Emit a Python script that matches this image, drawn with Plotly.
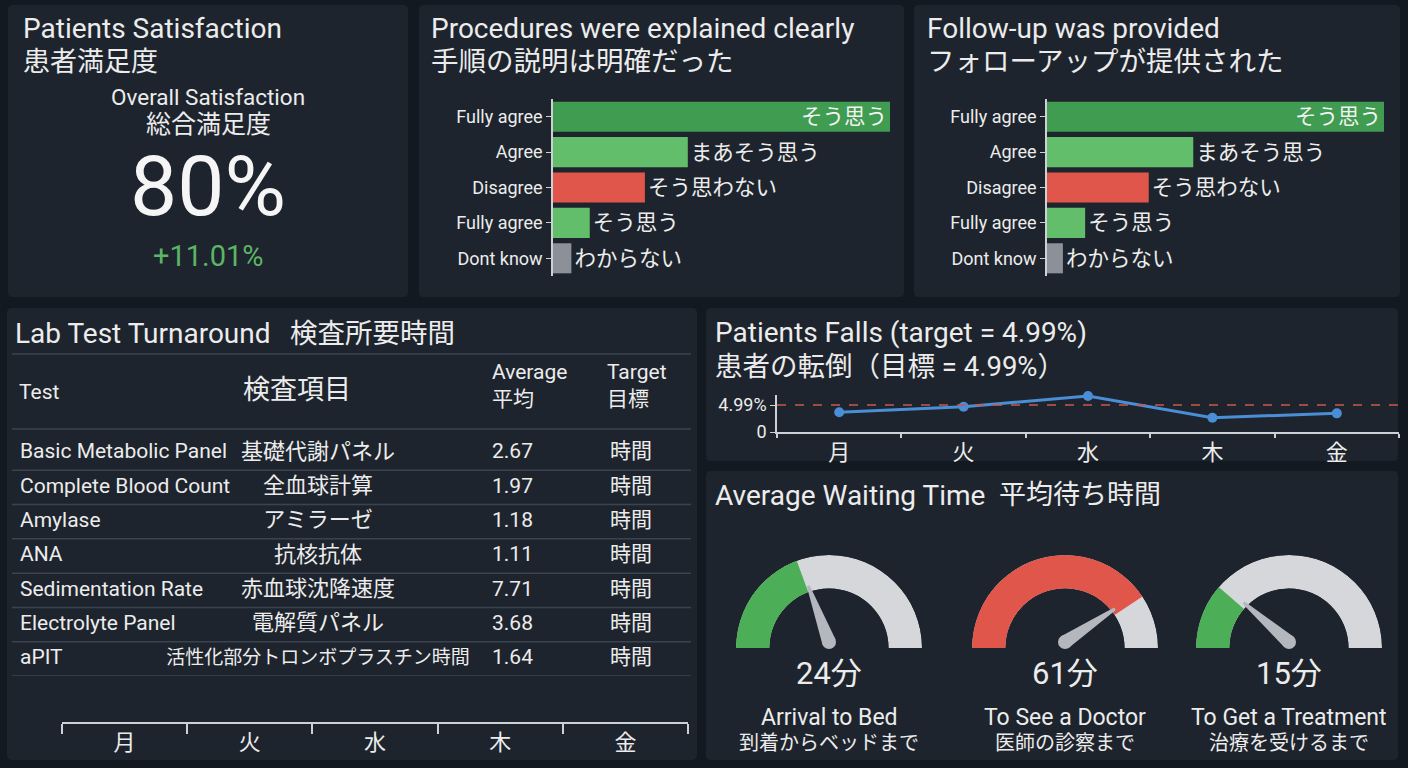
import math
import plotly.graph_objects as go

W, H = 1408, 768
BG = "#131920"
PANEL = "#1e242d"
TXT = "#ececec"
LINE = "#3b434f"
AXIS = "#cdd1d6"
FONT = "Roboto, 'Noto Sans CJK JP', sans-serif"

# ---------------- data ----------------
sat_value = 80
sat_delta = 11.01

survey_en = ["Fully agree", "Agree", "Disagree", "Fully agree", "Dont know"]
survey_jp = ["そう思う", "まあそう思う", "そう思わない", "そう思う", "わからない"]
survey_colors = ["#3f9c50", "#62be6b", "#e0564b", "#62be6b", "#8c9199"]
procedures_vals = [55, 22, 15, 6, 3]
followup_vals = [53, 23, 16, 6, 2.5]

lab_tests = ["Basic Metabolic Panel", "Complete Blood Count", "Amylase", "ANA",
             "Sedimentation Rate", "Electrolyte Panel", "aPIT"]
lab_tests_jp = ["基礎代謝パネル", "全血球計算", "アミラーゼ", "抗核抗体",
                "赤血球沈降速度", "電解質パネル", "活性化部分トロンボプラスチン時間"]
lab_avg = [2.67, 1.97, 1.18, 1.11, 7.71, 3.68, 1.64]
lab_target = ["時間"] * 7

days = ["月", "火", "水", "木", "金"]
falls = [3.64, 4.68, 6.65, 2.64, 3.45]
falls_target = 4.99

wait_en = ["Arrival to Bed", "To See a Doctor", "To Get a Treatment"]
wait_jp = ["到着からベッドまで", "医師の診察まで", "治療を受けるまで"]
wait_minutes = [24, 61, 15]
wait_max = [62, 75, 66]
wait_colors = ["#4cae57", "#e0564b", "#4cae57"]


def px(x):
    return x / W


def py(y):
    return 1 - y / H


fig = go.Figure()
shapes = []
annotations = []


def rrect(x0, y0, x1, y1, r=5):
    pts = (f"M {px(x0 + r)},{py(y0)} L {px(x1 - r)},{py(y0)} Q {px(x1)},{py(y0)} {px(x1)},{py(y0 + r)} "
           f"L {px(x1)},{py(y1 - r)} Q {px(x1)},{py(y1)} {px(x1 - r)},{py(y1)} "
           f"L {px(x0 + r)},{py(y1)} Q {px(x0)},{py(y1)} {px(x0)},{py(y1 - r)} "
           f"L {px(x0)},{py(y0 + r)} Q {px(x0)},{py(y0)} {px(x0 + r)},{py(y0)} Z")
    return dict(type="path", path=pts, xref="paper", yref="paper",
                fillcolor=PANEL, line=dict(width=0), layer="below")


for p in [(8, 5, 408, 297), (419, 5, 904, 297), (914, 5, 1400, 297),
          (7, 308, 697, 760), (706, 308, 1398, 461), (706, 471, 1398, 760)]:
    shapes.append(rrect(*p))


def ann(text, x, y, size, color=TXT, xanchor="left"):
    if xanchor == "left":
        x -= 3
    annotations.append(dict(text=text, x=px(x), y=py(y), xref="paper", yref="paper",
                            xanchor=xanchor, yanchor="middle", showarrow=False,
                            font=dict(size=size, color=color, family=FONT)))


# ---------------- panel 1: satisfaction ----------------
ann("Patients Satisfaction", 24, 29, 28)
ann("患者満足度", 24, 62, 27)
ann("Overall Satisfaction", 208, 97, 22.5, xanchor="center")
ann("総合満足度", 208, 124, 25, xanchor="center")
fig.add_trace(go.Indicator(mode="number", value=sat_value,
                           number=dict(suffix="%", font=dict(size=84, color="#f5f5f5", family=FONT)),
                           domain=dict(x=[px(8), px(408)], y=[py(226), py(146)])))
ann(f"+{sat_delta:.2f}%", 208, 256, 29, color="#5cb565", xanchor="center")

# ---------------- panels 2/3: survey bars ----------------
ann("Procedures were explained clearly", 432, 29, 28)
ann("手順の説明は明確だった", 432, 62, 27.5)
ann("Follow-up was provided", 928, 29, 28)
ann("フォローアップが提供された", 928, 62, 27.5)

for vals, xa, ya in [(procedures_vals, "x", "y"), (followup_vals, "x2", "y2")]:
    fig.add_trace(go.Bar(
        x=vals, y=list(range(len(vals))), orientation="h", width=0.85,
        marker=dict(color=survey_colors, line=dict(width=0)),
        text=survey_jp, textposition=["inside"] + ["outside"] * 4,
        insidetextanchor="end", constraintext="none", cliponaxis=False,
        insidetextfont=dict(size=21.5, color="#f2f2f2", family=FONT),
        outsidetextfont=dict(size=21.5, color=TXT, family=FONT),
        xaxis=xa, yaxis=ya, hoverinfo="skip", showlegend=False))

bar_y = dict(domain=[py(276), py(99)], range=[4.5, -0.5], tickvals=list(range(5)),
             ticktext=survey_en, showline=True, linecolor=AXIS, linewidth=1.5,
             ticks="outside", ticklen=5, tickcolor=AXIS, showgrid=False, zeroline=False,
             automargin=False, tickfont=dict(size=18, color=TXT, family=FONT))

# ---------------- panel 4: lab table ----------------
ann("Lab Test Turnaround", 16, 333, 28)
ann("検査所要時間", 291, 333, 27.5)
shapes.append(dict(type="line", xref="paper", yref="paper", x0=px(12), x1=px(691),
                   y0=py(354), y1=py(354), line=dict(color=LINE, width=1.5)))
shapes.append(dict(type="line", xref="paper", yref="paper", x0=px(12), x1=px(691),
                   y0=py(429), y1=py(429), line=dict(color=LINE, width=1.5)))
ann("Test", 20, 392, 21)
ann("検査項目", 297, 390, 27, xanchor="center")
ann("Average", 493, 372, 21)
ann("平均", 493, 399, 21)
ann("Target", 608, 372, 21)
ann("目標", 608, 399, 21)

rows = list(range(len(lab_tests)))
jp_sizes = [22 if len(t) < 10 else 19 for t in lab_tests_jp]
col_specs = [(lab_tests, 20, "middle right", 21),
             (lab_tests_jp, 318, "middle center", jp_sizes),
             ([f"{v:.2f}" for v in lab_avg], 492, "middle right", 21),
             (lab_target, 610, "middle right", 21)]
for texts, cx, pos, fs in col_specs:
    fig.add_trace(go.Scatter(x=[cx] * len(texts), y=rows, text=texts, mode="text",
                             textposition=pos, cliponaxis=False,
                             textfont=dict(size=fs, color=TXT, family=FONT),
                             xaxis="x3", yaxis="y3", hoverinfo="skip", showlegend=False))
for i in rows:
    shapes.append(dict(type="line", xref="paper", yref="y3", x0=px(12), x1=px(691),
                       y0=i + 0.5, y1=i + 0.5, line=dict(color=LINE, width=1.5)))

fig.add_trace(go.Scatter(x=days, y=[0] * len(days), mode="markers", marker=dict(opacity=0),
                         xaxis="x4", yaxis="y4", hoverinfo="skip", showlegend=False))

# ---------------- panel 5: falls ----------------
ann("Patients Falls (target = 4.99%)", 716, 332, 28)
ann("患者の転倒（目標 = 4.99%）", 716, 366, 27.5)
fig.add_trace(go.Scatter(x=days, y=falls, mode="lines+markers",
                         line=dict(color="#4a8ed6", width=3), marker=dict(size=10, color="#4a8ed6"),
                         cliponaxis=False, xaxis="x5", yaxis="y5", hoverinfo="skip", showlegend=False))
shapes.append(dict(type="line", xref="x5 domain", yref="y5", x0=0, x1=1,
                   y0=falls_target, y1=falls_target,
                   line=dict(color="#c65a50", width=1.5, dash="dash")))

# ---------------- panel 6: gauges ----------------
ann("Average Waiting Time", 716, 495, 28)
ann("平均待ち時間", 1000, 495, 27)

gauge_cx = [829, 1065, 1289]
gauge_cy = 648
R = 93
polars = {}
for k in range(3):
    name = "polar" if k == 0 else f"polar{k + 1}"
    cx = gauge_cx[k]
    polars[name] = dict(domain=dict(x=[px(cx - R), px(cx + R)], y=[py(gauge_cy), py(gauge_cy - R)]),
                        sector=[0, 180], hole=0.64, bgcolor="rgba(0,0,0,0)",
                        radialaxis=dict(visible=False, range=[0, 1]),
                        angularaxis=dict(visible=False, rotation=0, direction="counterclockwise"))
    frac = wait_minutes[k] / wait_max[k]
    fig.add_trace(go.Barpolar(r=[1], theta=[90], width=[180], marker=dict(color="#d5d7da", line=dict(width=0)),
                              subplot=name, hoverinfo="skip", showlegend=False))
    fig.add_trace(go.Barpolar(r=[1], theta=[180 - frac * 90], width=[frac * 180],
                              marker=dict(color=wait_colors[k], line=dict(width=0)),
                              subplot=name, hoverinfo="skip", showlegend=False))
    # needle
    a = math.pi * (1 - frac)
    bx, by = cx, gauge_cy - 6
    L = 60
    tx, ty = bx + L * math.cos(a), by - L * math.sin(a)
    pxv, pyv = math.sin(a), math.cos(a)
    pts = [(bx + 7 * pxv, by + 7 * pyv), (tx + 1.5 * pxv, ty + 1.5 * pyv),
           (tx - 1.5 * pxv, ty - 1.5 * pyv), (bx - 7 * pxv, by - 7 * pyv)]
    path = "M " + " L ".join(f"{px(x)},{py(y)}" for x, y in pts) + " Z"
    shapes.append(dict(type="path", path=path, xref="paper", yref="paper",
                       fillcolor="#b4b8be", line=dict(width=0)))
    shapes.append(dict(type="circle", xref="paper", yref="paper",
                       x0=px(bx - 7), x1=px(bx + 7), y0=py(by + 7), y1=py(by - 7),
                       fillcolor="#b4b8be", line=dict(width=0)))
    ann(f"{wait_minutes[k]}分", cx, 673, 31, xanchor="center")
    ann(wait_en[k], cx, 717, 23, xanchor="center")
    ann(wait_jp[k], cx, 743, 20, xanchor="center")

hidden = dict(visible=False, showgrid=False, zeroline=False, automargin=False)

fig.update_layout(
    width=W, height=H, margin=dict(l=0, r=0, t=0, b=0, autoexpand=False),
    paper_bgcolor=BG, plot_bgcolor="rgba(0,0,0,0)",
    font=dict(family=FONT, color=TXT),
    showlegend=False, bargap=0.15,
    xaxis=dict(hidden, domain=[px(553), px(890)], range=[0, 55], anchor="y"),
    yaxis=dict(bar_y, anchor="x"),
    xaxis2=dict(hidden, domain=[px(1047), px(1384)], range=[0, 53], anchor="y2"),
    yaxis2=dict(bar_y, anchor="x2"),
    xaxis3=dict(hidden, domain=[0, px(700)], range=[0, 700], anchor="y3"),
    yaxis3=dict(hidden, domain=[py(676), py(436)], range=[6.5, -0.5], anchor="x3"),
    xaxis4=dict(domain=[px(62), px(688)], anchor="y4", type="category", categoryorder="array",
                categoryarray=days, range=[-0.5, 4.5], tickson="boundaries", ticks="outside",
                ticklen=10, tickcolor=AXIS, tickwidth=1.5, showline=True, linecolor=AXIS, linewidth=1.5,
                showgrid=False, zeroline=False, automargin=False,
                tickfont=dict(size=22, color=TXT, family=FONT)),
    yaxis4=dict(hidden, domain=[py(722), py(712)], range=[0, 1], anchor="x4"),
    xaxis5=dict(domain=[px(777), px(1399)], anchor="y5", type="category", categoryorder="array",
                categoryarray=days, range=[-0.5, 4.5], tickson="boundaries", ticks="outside",
                ticklen=4, tickcolor=AXIS, tickwidth=1.5, showline=True, linecolor=AXIS, linewidth=1.5,
                showgrid=False, zeroline=False, automargin=False,
                tickfont=dict(size=22, color=TXT, family=FONT)),
    yaxis5=dict(domain=[py(432), py(395)], anchor="x5", range=[0, 6.84], tickvals=[0, falls_target],
                ticktext=["0", f"{falls_target}%"], ticks="outside", ticklen=5, tickcolor=AXIS,
                showline=True, linecolor=AXIS, linewidth=1.5, showgrid=False, zeroline=False,
                automargin=False, tickfont=dict(size=18, color=TXT, family=FONT)),
    shapes=shapes, annotations=annotations,
    **polars,
)

fig.write_html("out.html")
